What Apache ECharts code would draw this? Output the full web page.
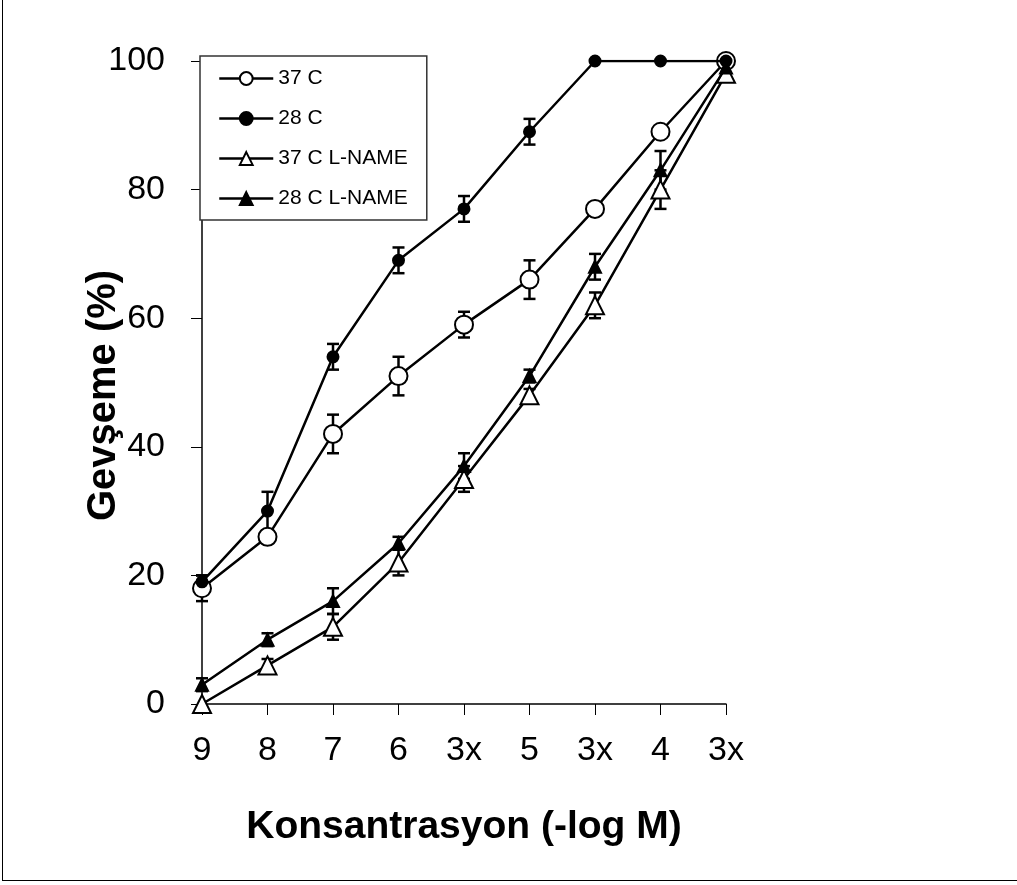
<!DOCTYPE html>
<html>
<head>
<meta charset="utf-8">
<script src="https://cdn.jsdelivr.net/npm/echarts@6/dist/echarts.min.js"></script>
<style>
  html, body { margin:0; padding:0; background:#fff; }
  #chart { position:absolute; left:0; top:0; width:1017px; height:885px; }
  #frame { position:absolute; left:2px; top:0; width:1015px; height:881px;
           border-left:1.5px solid #000; border-bottom:1.5px solid #000; pointer-events:none; box-sizing:border-box; }
</style>
</head>
<body>
<div id="chart"></div>
<div id="frame"></div>
<script>
// ---- data ----
const categories = ['9', '8', '7', '6', '3x', '5', '3x', '4', '3x'];
const yTicks = [0, 20, 40, 60, 80, 100];

const seriesNames = ['37 C', '28 C', '37 C L-NAME', '28 C L-NAME'];

const val37C   = [18, 26, 42, 51, 59, 66, 77, 89, 100];
const err37C   = [2, 1, 3, 3, 2, 3, 0, 0, 0];

const val28C   = [19, 30, 54, 69, 77, 89, 100, 100, 100];
const err28C   = [1, 3, 2, 2, 2, 2, 0, 0, 0];

const val37L   = [0, 6, 12, 22, 35, 48, 62, 80, 98];
const err37L   = [0, 1, 2, 2, 2, 1, 2, 3, 0];

const val28L   = [3, 10, 16, 25, 37, 51, 68, 83, 99];
const err28L   = [1, 1, 2, 1, 2, 1, 2, 3, 0];

// ---- helpers ----
function errData(vals, errs) {
  const out = [];
  vals.forEach((v, i) => { if (errs[i] > 0) out.push([i, v - errs[i], v + errs[i]]); });
  return out;
}
function renderErr(params, api) {
  const x = api.value(0), lo = api.value(1), hi = api.value(2);
  const pLo = api.coord([x, lo]);
  const pHi = api.coord([x, hi]);
  const w = 6;
  const st = { stroke: '#000', lineWidth: 2.5 };
  return {
    type: 'group',
    children: [
      { type: 'line', shape: { x1: pLo[0], y1: pLo[1], x2: pHi[0], y2: pHi[1] }, style: st },
      { type: 'line', shape: { x1: pLo[0] - w, y1: pLo[1], x2: pLo[0] + w, y2: pLo[1] }, style: st },
      { type: 'line', shape: { x1: pHi[0] - w, y1: pHi[1], x2: pHi[0] + w, y2: pHi[1] }, style: st }
    ]
  };
}
function errSeries(name, vals, errs) {
  return {
    name: name, type: 'custom', renderItem: renderErr,
    data: errData(vals, errs), encode: { x: 0, y: [1, 2] }, z: 1, silent: true
  };
}
function lineSeries(name, vals, symbol, size, z) {
  return {
    name: name, type: 'line', data: vals, symbol: symbol, symbolSize: size,
    showAllSymbol: true, z: z,
    lineStyle: { color: '#000', width: 2.5 },
    itemStyle: { color: '#000', borderColor: '#000', borderWidth: 2 },
    emphasis: { disabled: true }
  };
}

const FONT = "'Liberation Sans', Arial, sans-serif";

const chart = echarts.init(document.getElementById('chart'), null, { renderer: 'canvas' });
chart.setOption({
  backgroundColor: '#fff',
  animation: false,
  grid: { left: 202, right: 291, top: 61, bottom: 181, containLabel: false },
  legend: {
    data: seriesNames,
    orient: 'vertical',
    left: 200, top: 56,
    padding: [12, 19, 11, 18],
    itemWidth: 54, itemHeight: 16, itemGap: 19,
    backgroundColor: '#fff',
    borderColor: '#333', borderWidth: 1.5, borderRadius: 0,
    lineStyle: { width: 2.5 },
    textStyle: { fontFamily: FONT, fontSize: 21, color: '#000' },
    selectedMode: false
  },
  xAxis: {
    type: 'category', data: categories, boundaryGap: false,
    axisLine: { lineStyle: { color: '#000', width: 1.5 } },
    axisTick: { show: true, inside: false, length: 11, lineStyle: { color: '#000', width: 1 } },
    axisLabel: { fontFamily: FONT, fontSize: 34, color: '#000', margin: 30, interval: 0 },
    splitLine: { show: false },
    name: 'Konsantrasyon (-log M)', nameLocation: 'middle', nameGap: 104,
    nameMoveOverlap: false,
    nameTextStyle: { fontFamily: FONT, fontSize: 39, fontWeight: 'bold', color: '#000' }
  },
  yAxis: {
    type: 'value', min: 0, max: 100, interval: 20,
    axisLine: { show: true, lineStyle: { color: '#000', width: 1.5 } },
    axisTick: { show: true, inside: false, length: 11, lineStyle: { color: '#000', width: 1 } },
    axisLabel: { fontFamily: FONT, fontSize: 34, color: '#000', margin: 37,
                 customValues: yTicks },
    splitLine: { show: false },
    name: 'Gevşeme (%)', nameLocation: 'middle', nameGap: 78, nameRotate: 90,
    nameMoveOverlap: false,
    nameTextStyle: { fontFamily: FONT, fontSize: 40, fontWeight: 'bold', color: '#000',
                     padding: [0, 26, 0, 0] }
  },
  series: [
    errSeries('e37L', val37L, err37L),
    errSeries('e37C', val37C, err37C),
    errSeries('e28C', val28C, err28C),
    errSeries('e28L', val28L, err28L),
    lineSeries('37 C L-NAME', val37L, 'emptyTriangle', 18, 2),
    lineSeries('37 C', val37C, 'emptyCircle', 18, 3),
    lineSeries('28 C', val28C, 'circle', 11, 4),
    lineSeries('28 C L-NAME', val28L, 'triangle', 12, 5)
  ]
});
</script>
</body>
</html>
